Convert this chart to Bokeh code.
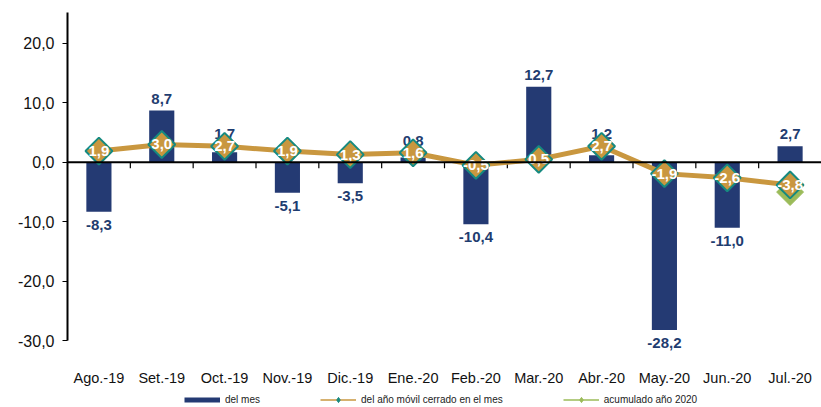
import math
from bokeh.plotting import figure
from bokeh.layouts import column
from bokeh.models import (ColumnDataSource, FactorRange, Range1d, FixedTicker, Span,
                          Legend, LegendItem)
from bokeh.core.properties import value
from bokeh.embed import file_html
from bokeh.resources import INLINE

months = ["Ago.-19", "Set.-19", "Oct.-19", "Nov.-19", "Dic.-19", "Ene.-20",
          "Feb.-20", "Mar.-20", "Abr.-20", "May.-20", "Jun.-20", "Jul.-20"]
del_mes = [-8.3, 8.7, 1.7, -5.1, -3.5, 0.8, -10.4, 12.7, 1.2, -28.2, -11.0, 2.7]
anio_movil = [1.9, 3.0, 2.7, 1.9, 1.3, 1.6, -0.5, 0.5, 2.7, -1.9, -2.6, -3.8]
acum_months = ["Jul.-20"]
acum_2020 = [-5.0]
y_ticks = [-30, -20, -10, 0, 10, 20]

def fmt(v):
    return f"{v:.1f}".replace(".", ",")

FONT = "Liberation Sans"
NAVY = "#243A73"
LABEL_BLUE = "#1F3D70"
GOLD = "#C9973F"
TEAL = "#168A80"
GREEN = "#9BBB59"

Y_MIN, Y_MAX = -30, 25.2

p = figure(width=821, height=388, x_range=FactorRange(*months, range_padding=0),
           y_range=Range1d(Y_MIN - 3.5, Y_MAX), output_backend="svg", toolbar_location=None,
           min_border_left=67, min_border_top=12, min_border_bottom=25, min_border_right=0)
p.outline_line_color = None
p.xgrid.visible = False
p.ygrid.visible = False

# positive bar labels sit above the bar, or above the marker of the other series when it covers them
lab_y = [max(b, m) if b >= 0 else b for b, m in zip(del_mes, anio_movil)]
bar_src = ColumnDataSource(dict(
    x=months, top=del_mes, lab=[fmt(v) for v in del_mes], lab_y=lab_y,
    base=["bottom" if v >= 0 else "top" for v in del_mes],
    off=[-7 if v >= 0 else 8 for v in del_mes]))
p.vbar(x="x", top="top", width=0.4, source=bar_src, fill_color=NAVY, line_color=None)

p.add_layout(Span(location=0, dimension="width", line_color="black", line_width=2))
bounds = list(range(1, len(months)))
p.segment(x0=bounds, y0=[0] * len(bounds), x1=bounds, y1=[-1.0] * len(bounds),
          line_color="black", line_width=1.2)

p.text(x="x", y="lab_y", text="lab", source=bar_src, text_align="center",
       text_baseline="base", y_offset="off", text_color=LABEL_BLUE,
       text_font=value(FONT), text_font_size="15px", text_font_style="bold")

acum_src = ColumnDataSource(dict(x=acum_months, y=acum_2020))
p.scatter(x="x", y="y", source=acum_src, marker="square", size=19, angle=math.pi / 4,
          fill_color=GREEN, line_color=GREEN)

mov_src = ColumnDataSource(dict(x=months, y=anio_movil, lab=[fmt(v) for v in anio_movil]))
p.line(x="x", y="y", source=mov_src, line_color=GOLD, line_width=5)
p.scatter(x="x", y="y", source=mov_src, marker="square", size=19, angle=math.pi / 4,
          fill_color=GOLD, line_color=TEAL, line_width=2)
p.text(x="x", y="y", text="lab", source=mov_src, text_align="center",
       text_baseline="middle", text_color="white", text_font=value(FONT),
       text_font_size="15px", text_font_style="bold")

p.yaxis.ticker = FixedTicker(ticks=y_ticks)
p.yaxis.bounds = (Y_MIN, Y_MAX)
p.yaxis.major_label_overrides = {t: fmt(t) for t in y_ticks}
p.yaxis.minor_tick_line_color = None
p.yaxis.major_tick_out = 5
p.yaxis.major_tick_in = 0
p.yaxis.axis_line_width = 2
p.yaxis.axis_line_color = "black"
p.yaxis.major_tick_line_width = 1.2
p.yaxis.major_label_standoff = 8
p.yaxis.major_label_text_font = FONT
p.yaxis.major_label_text_font_size = "16px"
p.yaxis.major_label_text_color = "#111111"

p.xaxis.axis_line_color = None
p.xaxis.major_tick_line_color = None
p.xaxis.minor_tick_line_color = None
p.xaxis.major_label_standoff = 2
p.xaxis.major_label_text_font = FONT
p.xaxis.major_label_text_font_size = "14.5px"
p.xaxis.major_label_text_color = "#111111"

# legend strip: proxies use the same data, but this strip's y range lies far above them
lf = figure(width=821, height=19, x_range=FactorRange(*months, range_padding=0),
            y_range=Range1d(1000, 1001), output_backend="svg", toolbar_location=None,
            x_axis_location=None, y_axis_location=None,
            min_border_left=0, min_border_right=0, min_border_top=0, min_border_bottom=0)
lf.outline_line_color = None
lf.xgrid.visible = False
lf.ygrid.visible = False

lg_bar = lf.line(x="x", y="top", source=bar_src, line_color=NAVY, line_width=5,
                 line_cap="butt")
lg_l1 = lf.line(x="x", y="y", source=mov_src, line_color=GOLD, line_width=1.5)
lg_m1 = lf.scatter(x="x", y="y", source=mov_src, marker="diamond", size=8,
                   fill_color=TEAL, line_color=TEAL)
lg_l2 = lf.line(x="x", y="y", source=acum_src, line_color=GREEN, line_width=1.5)
lg_m2 = lf.scatter(x="x", y="y", source=acum_src, marker="diamond", size=8,
                   fill_color=GREEN, line_color=GREEN)

legend = Legend(items=[
    LegendItem(label="del mes", renderers=[lg_bar]),
    LegendItem(label="del año móvil cerrado en el mes", renderers=[lg_l1, lg_m1]),
    LegendItem(label="acumulado año 2020", renderers=[lg_l2, lg_m2]),
], orientation="horizontal", location=(117, 1), padding=0, margin=0, spacing=60,
    glyph_width=36, glyph_height=13, label_standoff=5, label_height=12,
    label_text_font=FONT, label_text_font_size="10px", label_text_color="#222222",
    border_line_color=None, background_fill_alpha=0)
lf.add_layout(legend, "center")

open("out.html", "w").write(file_html(column(p, lf), INLINE))
